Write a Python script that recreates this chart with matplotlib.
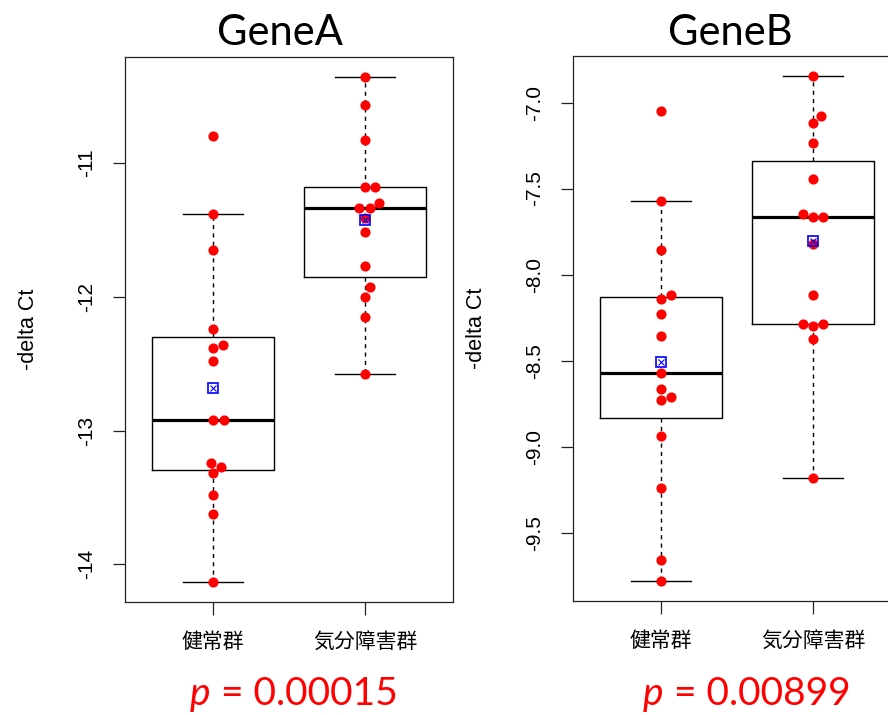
import numpy as np
import matplotlib
matplotlib.use("Agg")
import matplotlib.pyplot as plt

plt.rcParams["font.family"] = ["Liberation Sans", "Noto Sans CJK JP", "DejaVu Sans"]
plt.rcParams["axes.unicode_minus"] = False

# -- data --
groups = ["健常群", "気分障害群"]

genea_healthy = [-10.80, -11.38, -11.65, -12.24, -12.36, -12.38, -12.48, -12.92,
                 -12.92, -13.24, -13.27, -13.32, -13.48, -13.62, -14.13]
genea_mood = [-10.36, -10.57, -10.83, -11.18, -11.18, -11.30, -11.34, -11.34,
              -11.41, -11.52, -11.77, -11.93, -12.00, -12.15, -12.58]

geneb_healthy = [-7.05, -7.575, -7.856, -8.12, -8.14, -8.23, -8.355, -8.57,
                 -8.667, -8.71, -8.73, -8.94, -9.24, -9.66, -9.78]
geneb_mood = [-6.847, -7.08, -7.12, -7.235, -7.446, -7.646, -7.666, -7.666,
              -7.825, -8.118, -8.287, -8.287, -8.30, -8.374, -9.185]

genea_ticks = [-11, -12, -13, -14]
geneb_ticks = [-7.0, -7.5, -8.0, -8.5, -9.0, -9.5]

titles = ["GeneA", "GeneB"]
pvalues = ["0.00015", "0.00899"]


def r_boxstats(values):
    # same hinges / whiskers as R's boxplot.stats
    x = np.sort(np.asarray(values, dtype=float))
    n = len(x)
    n4 = np.floor((n + 3) / 2) / 2
    d = np.array([1, n4, (n + 1) / 2, n + 1 - n4, n]) - 1
    five = 0.5 * (x[np.floor(d).astype(int)] + x[np.ceil(d).astype(int)])
    iqr = five[3] - five[1]
    inside = x[(x >= five[1] - 1.5 * iqr) & (x <= five[3] + 1.5 * iqr)]
    return dict(whislo=inside.min(), q1=five[1], med=five[2], q3=five[3],
                whishi=inside.max(), fliers=[])


def swarm(ax, values, center, d=10.5):
    # beeswarm-style horizontal offsets, worked out in pixel space
    pts = ax.transData.transform(np.column_stack([np.full(len(values), center), values]))
    ys = pts[:, 1]
    x0 = pts[0, 0]
    xs = np.zeros(len(values))
    placed = []
    for i in np.argsort(ys, kind="stable"):
        y = ys[i]
        cands = [0.0]
        for px, py in placed:
            dy = abs(py - y)
            if dy < d:
                dx = np.sqrt(d * d - dy * dy)
                cands += [px + dx, px - dx]
        cands.sort(key=lambda c: (abs(c), -c))
        for c in cands:
            if all((c - px) ** 2 + (y - py) ** 2 >= d * d - 1e-6 for px, py in placed):
                break
        xs[i] = c
        placed.append((c, y))
    back = ax.transData.inverted().transform(np.column_stack([x0 + xs, ys]))
    return back[:, 0]


def panel(ax, data, ticks, tick_fmt):
    allv = np.concatenate(data)
    lo, hi = allv.min(), allv.max()
    pad = 0.04 * (hi - lo)
    ax.set_ylim(lo - pad, hi + pad)
    ax.set_xlim(0.42, 2.58)

    stats = [r_boxstats(v) for v in data]
    ax.bxp(stats, positions=[1, 2], widths=0.8, capwidths=0.4, showfliers=False,
           boxprops=dict(color="black", linewidth=1.0),
           medianprops=dict(color="black", linewidth=2.3, solid_capstyle="butt"),
           whiskerprops=dict(color="black", linewidth=1.0, linestyle=(0, (3, 3))),
           capprops=dict(color="black", linewidth=1.0), zorder=2)

    for pos, vals in zip([1, 2], data):
        xs = swarm(ax, vals, pos)
        ax.plot(xs, vals, "o", color="red", markersize=7.3, markeredgewidth=0, zorder=3)
        m = np.mean(vals)
        ax.plot([pos], [m], "s", mfc="none", mec="blue", mew=1.2, markersize=7.3, zorder=4)
        ax.plot([pos], [m], "x", color="blue", mew=0.8, markersize=4.5, zorder=4)

    ax.set_yticks(ticks)
    ax.set_yticklabels([tick_fmt.format(t) for t in ticks], rotation=90, va="center",
                       fontsize=15)
    ax.set_xticks([1, 2])
    ax.set_xticklabels(groups, fontsize=15)
    ax.tick_params(direction="out", length=9, width=0.9, color="#222222")
    ax.tick_params(axis="y", pad=12)
    ax.tick_params(axis="x", pad=13)
    for s in ax.spines.values():
        s.set_linewidth(0.9)
        s.set_color("#222222")
    ax.set_ylabel("-delta Ct", fontsize=15.5, va="center")
    ax.yaxis.set_label_coords(-97 / 328, 0.5)


fig = plt.figure(figsize=(8.88, 7.15), dpi=100)
W, H = 888, 715
ax1 = fig.add_axes([125 / W, 1 - 602 / H, 328 / W, 545 / H])
ax2 = fig.add_axes([573 / W, 1 - 601 / H, 328 / W, 545 / H])

panel(ax1, [np.array(genea_healthy), np.array(genea_mood)], genea_ticks, "{:.0f}")
panel(ax2, [np.array(geneb_healthy), np.array(geneb_mood)], geneb_ticks, "{:.1f}")

# titles and p values
for title, xc in zip(titles, [280 / W, 730 / W]):
    fig.text(xc, 1 - 45 / H, title, ha="center", va="baseline", fontsize=30,
             family="Lato", color="black")

for pv, xl in zip(pvalues, [190 / W, 643 / W]):
    t = fig.text(xl, 1 - 705 / H, "p", ha="left", va="baseline", fontsize=28,
                 family="Lato", style="italic", color="red")
    ax1.annotate(" = " + pv, xy=(1, 0), xycoords=t, ha="left", va="bottom",
                 fontsize=28, family="Lato", color="red", annotation_clip=False)

fig.savefig("out.png", dpi=100)
